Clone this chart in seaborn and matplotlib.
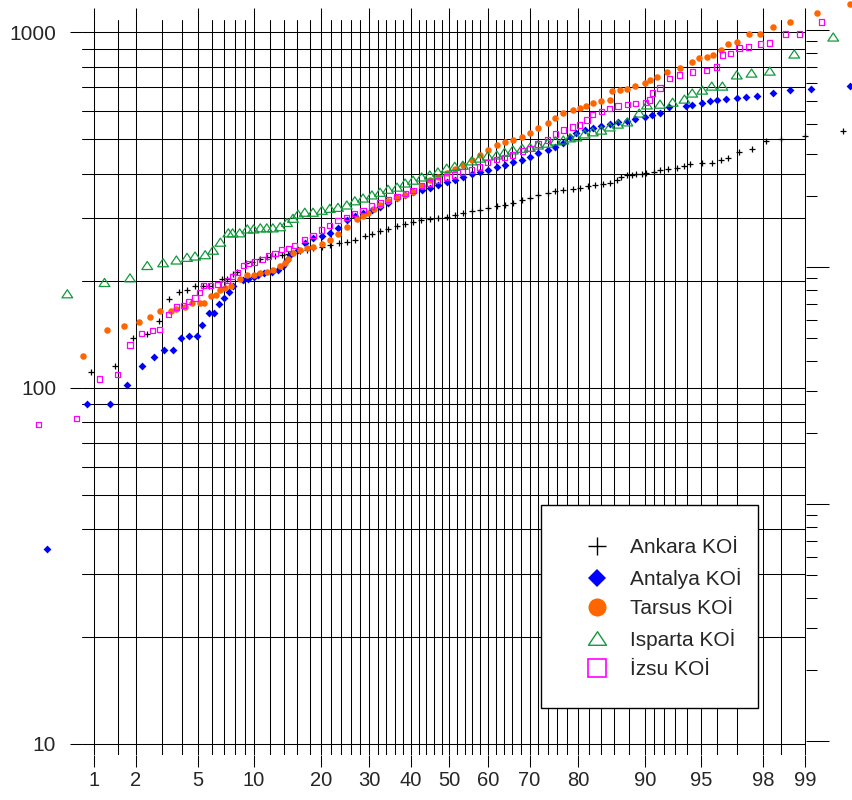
import matplotlib
matplotlib.use("Agg")
import matplotlib.pyplot as plt
import seaborn as sns
import numpy as np
from statistics import NormalDist
from matplotlib.lines import Line2D
from matplotlib.patches import Rectangle
from matplotlib.path import Path
from matplotlib.ticker import FixedLocator, NullFormatter

# ---------------------------------------------------------
# Veri: olasilik (%) ve KOİ degerleri
# ---------------------------------------------------------
ankara_pct = [0.95, 1.43, 1.92, 2.40, 2.87, 3.33, 3.84, 4.30, 4.80, 5.36, 5.80, 6.8, 7.3, 7.8, 8.2,
              9.2, 9.8, 10.8, 11.6, 12.7, 13.6, 14.5, 15.3, 16.4, 17.5, 18.6, 20.2, 21.7, 23.5, 25.1,
              26.8, 29.0, 30.6, 32.5, 34.4, 36.6, 38.6, 40.6, 42.6, 44.9, 47.0, 49.4, 51.4, 53.5,
              55.8, 57.9, 59.9, 62.2, 64.1, 66.1, 68.3, 70.1, 71.9, 74.0, 75.6, 77.2, 79.0, 80.3,
              81.8, 83.0, 84.2, 85.3, 86.4, 87.0, 87.7, 88.4, 88.9, 89.6, 90.1, 91.0, 91.6, 92.4,
              93.2, 93.8, 94.2, 95.1, 95.7, 96.2, 96.6, 97.1, 97.6, 98.1, 98.5, 99.0, 99.5]
ankara_koi = [111, 115, 138, 142, 154, 178, 186, 189, 194, 194, 194, 202, 203, 209, 212,
              224, 226, 231, 233, 235, 237, 238, 240, 242, 245, 247, 249, 252, 256, 257,
              261, 268, 271, 276, 280, 286, 289, 292, 297, 298, 300, 302, 306, 310,
              314, 316, 320, 324, 327, 331, 338, 342, 349, 353, 357, 360, 362, 365,
              370, 372, 374, 377, 384, 391, 397, 397, 399, 399, 403, 405, 410, 412,
              415, 420, 427, 430, 430, 438, 444, 460, 469, 495, 500, 511, 528]

antalya_pct = [0.42, 0.89, 1.32, 1.74, 2.2, 2.65, 3.1, 3.5, 3.95, 4.4, 4.9, 5.3, 5.75, 6.2, 6.6,
               7.0, 7.46, 7.8, 8.8, 9.4, 10.0, 10.5, 11.3, 12.3, 13.1, 13.8, 14.4, 14.8, 16.1,
               17.2, 18.6, 20.2, 21.7, 23.3, 25.1, 26.8, 28.6, 30.6, 32.5, 34.4, 36.6, 38.6,
               40.6, 42.8, 44.9, 47.0, 49.3, 51.4, 53.5, 55.8, 57.9, 59.9, 62.2, 64.1, 66.1,
               68.3, 70.1, 71.9, 74.0, 75.6, 77.2, 78.5, 79.7, 81.2, 82.6, 84.0, 85.3, 86.5,
               87.8, 88.8, 90.0, 90.8, 91.6, 92.5, 93.9, 94.4, 95.1, 95.6, 96.0, 96.5, 97.0,
               97.4, 97.8, 98.3, 98.7, 99.1, 99.56]
antalya_koi = [35.3, 90, 90, 102, 115, 122, 128, 128, 138, 140, 140, 150, 163, 163, 172,
               179, 186, 193, 201, 203, 205, 208, 211, 212, 214, 220, 229, 237, 244,
               255, 264, 268, 273, 282, 297, 304, 310, 316, 322, 331, 342, 349,
               355, 360, 365, 372, 379, 384, 392, 400, 405, 410, 418, 423, 432,
               438, 446, 458, 467, 475, 488, 508, 521, 531, 538, 545, 552, 560,
               563, 570, 577, 585, 593, 617, 620, 624, 632, 640, 645, 649, 654,
               658, 662, 675, 688, 693, 706]

tarsus_pct = [0.83, 1.25, 1.65, 2.1, 2.5, 2.9, 3.4, 3.7, 4.2, 4.6, 5.1, 5.4, 5.9, 6.3, 6.7, 7.1,
              7.6, 8.5, 9.3, 10.0, 10.8, 11.6, 12.4, 13.4, 14.1, 14.6, 15.3, 16.4, 17.5, 18.6,
              20.2, 21.7, 23.3, 25.1, 27.3, 28.5, 29.7, 31.0, 32.5, 34.5, 36.6, 38.6, 40.6, 42.8,
              44.9, 47.0, 49.3, 51.4, 53.5, 55.8, 57.9, 59.9, 62.2, 64.1, 66.1, 68.3, 70.1,
              71.9, 74.0, 75.6, 77.2, 79.0, 80.3, 81.5, 82.6, 84.0, 85.3, 85.6, 86.8, 87.8,
              88.8, 90.0, 90.5, 91.3, 92.3, 93.4, 94.4, 94.9, 95.4, 95.8, 96.2, 96.6, 97.0,
              97.5, 97.9, 98.3, 98.7, 99.2, 99.56]
tarsus_koi = [123, 146, 149, 153, 158, 165, 165, 167, 169, 173, 173, 173, 181, 183, 189, 191,
              194, 203, 208, 208, 211, 212, 215, 220, 224, 231, 239, 244, 247, 249,
              254, 261, 271, 284, 299, 305, 311, 319, 327, 335, 342, 349, 355, 369,
              384, 393, 402, 413, 423, 438, 452, 467, 482, 491, 498, 508, 521,
              538, 556, 574, 593, 605, 612, 622, 632, 640, 645, 684, 688, 693,
              706, 720, 734, 749, 773, 794, 825, 847, 852, 863, 892, 927, 939,
              989, 989, 1035, 1069, 1133, 1201]

isparta_pct = [0.62, 1.2, 1.83, 2.4, 3.05, 3.7, 4.3, 4.8, 5.5, 6.1, 6.7, 7.4, 7.8, 8.5, 9.3,
               10.0, 10.8, 11.6, 12.4, 13.4, 14.4, 15.3, 16.1, 17.2, 18.6, 20.2, 21.7, 23.3,
               25.1, 26.8, 28.6, 30.6, 32.5, 34.4, 36.6, 38.6, 40.6, 42.8, 44.9, 47.0, 49.3,
               51.4, 53.5, 55.8, 57.9, 59.9, 62.2, 64.1, 66.1, 68.3, 70.1, 71.9, 74.0, 75.6,
               77.2, 78.5, 79.7, 81.2, 82.6, 84.0, 85.3, 86.5, 87.8, 89.3, 90.2, 91.6, 92.8,
               93.8, 94.4, 95.1, 95.7, 96.3, 97.0, 97.6, 98.2, 98.8, 99.4]
isparta_koi = [184, 198, 204, 221, 225, 229, 233, 235, 237, 244, 257, 273, 273, 273, 280,
               280, 282, 282, 282, 284, 292, 300, 308, 312, 312, 316, 320, 322,
               327, 336, 342, 349, 355, 362, 367, 377, 384, 392, 397, 405, 415,
               420, 423, 435, 443, 449, 452, 460, 467, 472, 475, 482, 488, 495,
               498, 505, 508, 518, 525, 531, 542, 552, 560, 593, 625, 628, 636,
               649, 675, 688, 706, 706, 759, 768, 778, 869, 970]

izsu_pct = [0.36, 0.73, 1.1, 1.5, 1.83, 2.2, 2.6, 2.9, 3.3, 3.7, 4.1, 4.4, 4.8, 5.1, 5.4, 5.9,
            6.5, 6.9, 7.3, 7.8, 8.3, 8.9, 9.4, 10.1, 11.0, 11.8, 12.7, 13.6, 14.6, 15.6, 17.2,
            18.6, 20.2, 21.7, 23.3, 25.1, 26.8, 28.6, 30.6, 32.5, 34.4, 36.6, 38.6, 40.6, 42.8,
            44.9, 47.0, 49.3, 51.4, 53.5, 55.8, 57.9, 59.9, 62.2, 64.1, 66.1, 68.3, 70.1, 71.9,
            74.0, 75.6, 77.2, 79.0, 80.3, 81.6, 82.6, 84.0, 85.3, 86.5, 87.8, 88.8, 90.0, 90.5,
            90.8, 91.6, 92.5, 93.4, 94.4, 95.4, 96.0, 96.3, 96.7, 97.1, 97.5, 97.9, 98.2, 98.6,
            98.9, 99.26]
izsu_koi = [79, 82, 106, 109, 132, 142, 145, 146, 161, 169, 171, 175, 179, 186, 194, 194,
            195, 196, 201, 206, 211, 221, 224, 226, 230, 235, 239, 245, 247, 251, 262,
            269, 278, 287, 295, 302, 310, 316, 325, 331, 338, 345, 353, 360, 370,
            377, 384, 392, 397, 405, 410, 418, 430, 438, 444, 452, 464, 472, 485,
            498, 518, 531, 542, 549, 567, 586, 600, 612, 621, 628, 632, 636, 645,
            675, 697, 743, 759, 773, 783, 799, 863, 874, 903, 909, 927, 933, 989,
            989, 1069]

# eksen isaretleri (olasilik kagidi)
x_major = [1, 2, 5, 10, 20, 30, 40, 50, 60, 70, 80, 90, 95, 98, 99]
x_major_labels = ['1', '2', '5', '10', '20', '30', '40', '50', '60', '70', '80', '90', '95', '98', '99']
x_minor = [1.5, 3, 4, 6, 7, 8, 9, 12, 14, 16, 18, 22, 24, 26, 28, 32, 34, 36, 38, 42, 44, 46, 48,
           52, 54, 56, 58, 62, 64, 66, 68, 72, 74, 76, 78, 82, 84, 86, 88, 91, 92, 93, 94, 96, 97, 98.5]
y_major = [10, 100, 1000]
y_major_labels = ['10', '100', '1000']
y_minor = [20, 30, 40, 50, 60, 70, 80, 90, 200, 300, 400, 500, 600, 700, 800, 900]

C_BLACK = 'black'
C_BLUE = '#0000FF'
C_ORANGE = '#FF6600'
C_GREEN = '#119A3C'
C_MAGENTA = '#FF00FF'

# ---------------------------------------------------------
# Normal olasilik olcegi (yuzde -> z)
_nd = NormalDist()
_ppf = np.vectorize(_nd.inv_cdf, otypes=[float])
_cdf = np.vectorize(_nd.cdf, otypes=[float])


def prob_forward(p):
    q = np.clip(np.asarray(p, dtype=float) / 100.0, 1e-9, 1 - 1e-9)
    return _ppf(q)


def prob_inverse(z):
    return _cdf(np.asarray(z, dtype=float)) * 100.0


def main():
    sns.set_style("white")
    plt.rcParams['font.family'] = ['Liberation Sans', 'DejaVu Sans']

    W, H = 853, 800
    fig = plt.figure(figsize=(W / 100, H / 100), dpi=100)
    # eksen alani: x 82..806 px, y 20..755 px
    ax = fig.add_axes([82 / W, (H - 755) / H, (806 - 82) / W, (755 - 20) / H])

    ax.set_xscale('function', functions=(prob_forward, prob_inverse))
    ax.set_yscale('log')

    tri = Path([(-1, -0.75), (1, -0.75), (0, 0.75), (-1, -0.75)], closed=True)

    common = dict(ax=ax, legend=False, clip_on=False, zorder=3)
    sns.scatterplot(x=ankara_pct, y=ankara_koi, marker='+', s=22, color=C_BLACK,
                    linewidth=0.9, **common)
    sns.scatterplot(x=antalya_pct, y=antalya_koi, marker='D', s=16, color=C_BLUE,
                    linewidth=0, **common)
    sns.scatterplot(x=tarsus_pct, y=tarsus_koi, marker='o', s=22, color=C_ORANGE,
                    linewidth=0, **common)
    sns.scatterplot(x=isparta_pct, y=isparta_koi, marker=tri, s=60, facecolor='none',
                    edgecolor=C_GREEN, linewidth=0.9, **common)
    sns.scatterplot(x=izsu_pct, y=izsu_koi, marker='s', s=14, facecolor='none',
                    edgecolor=C_MAGENTA, linewidth=0.9, **common)

    ax.set_xlim(0.81, 99.02)
    ax.set_ylim(9.29, 1083)

    ax.xaxis.set_major_locator(FixedLocator(x_major))
    ax.xaxis.set_minor_locator(FixedLocator(x_minor))
    ax.set_xticklabels(x_major_labels)
    ax.xaxis.set_minor_formatter(NullFormatter())
    ax.yaxis.set_major_locator(FixedLocator(y_major))
    ax.yaxis.set_minor_locator(FixedLocator(y_minor))
    ax.set_yticklabels(y_major_labels)
    ax.yaxis.set_minor_formatter(NullFormatter())

    ax.grid(True, which='both', color='black', linewidth=0.75)
    ax.set_axisbelow(True)
    for s in ax.spines.values():
        s.set_visible(False)

    ax.tick_params(axis='x', which='major', direction='out', length=8.6, width=0.75,
                   color='black', top=True, bottom=True, labeltop=False, labelsize=14.5, pad=3)
    ax.tick_params(axis='x', which='minor', length=0)
    ax.tick_params(axis='y', which='major', direction='out', length=8.6, width=0.75,
                   color='black', left=True, right=False, labelsize=15, pad=10)
    ax.tick_params(axis='y', which='minor', length=0)
    ax.set_xlabel('')
    ax.set_ylabel('')

    # sag taraftaki ikinci log olcek (sadece isaretler)
    ax2 = ax.twinx()
    ax2.set_yscale('log')
    ax2.set_ylim(0.873, 1102)
    ax2.yaxis.set_major_locator(FixedLocator([1, 10, 100, 1000]))
    ax2.yaxis.set_minor_locator(FixedLocator([m * d for d in (1, 10, 100) for m in range(2, 10)]))
    ax2.yaxis.set_major_formatter(NullFormatter())
    ax2.yaxis.set_minor_formatter(NullFormatter())
    ax2.tick_params(axis='y', which='major', direction='out', length=16.6, width=0.75, color='black')
    ax2.tick_params(axis='y', which='minor', direction='out', length=7.9, width=0.75, color='black')
    for s in ax2.spines.values():
        s.set_visible(False)

    # lejant kutusu (sabit cerceve) + icerik
    box = Rectangle((541 / W, 1 - 708 / H), (758 - 541) / W, (708 - 505) / H,
                    transform=fig.transFigure, facecolor='white', edgecolor='black',
                    linewidth=1.0, zorder=9, clip_on=False)
    ax.add_patch(box)

    handles = [
        Line2D([], [], ls='none', marker='+', ms=13, mew=1.0, color=C_BLACK, label='Ankara KOİ'),
        Line2D([], [], ls='none', marker='D', ms=9.5, mfc=C_BLUE, mec=C_BLUE, mew=0, label='Antalya KOİ'),
        Line2D([], [], ls='none', marker='o', ms=13, mfc=C_ORANGE, mec=C_ORANGE, mew=0, label='Tarsus KOİ'),
        Line2D([], [], ls='none', marker=tri, ms=13, mfc='none', mec=C_GREEN, mew=1.0, label='Isparta KOİ'),
        Line2D([], [], ls='none', marker='s', ms=12.5, mfc='none', mec=C_MAGENTA, mew=1.2, label='İzsu KOİ'),
    ]
    leg = ax.legend(handles=handles, loc='upper left', bbox_to_anchor=(541 / W, 1 - 505 / H),
                    bbox_transform=fig.transFigure, frameon=False, fontsize=15, borderpad=1.6,
                    handlelength=2.2, handletextpad=0.45, labelspacing=0.5, borderaxespad=0)
    leg.set_zorder(10)

    fig.savefig('out.png', dpi=100, facecolor='white')
    plt.close(fig)


if __name__ == "__main__":
    main()
